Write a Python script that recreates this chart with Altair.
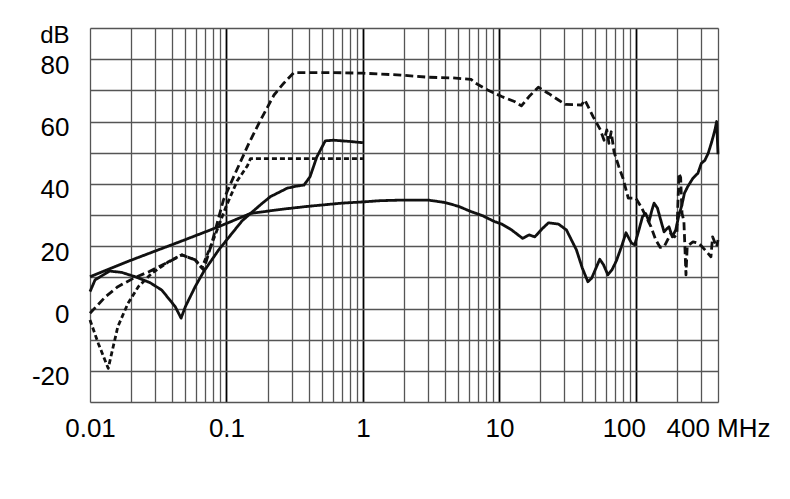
import altair as alt
import pandas as pd

# ---- data ----
s1_f = [0.01, 0.02, 0.046, 0.085, 0.15, 0.25, 0.4, 0.7, 1.0, 1.34, 2.0, 3.0, 4.0, 5.0, 6.2, 7.5, 9.2, 10.4,
        12.3, 14.8, 16.5, 18.2, 20.5, 22.9, 27.1, 31, 36.7, 40.5, 44.5, 47.4, 50.5, 54.4, 58, 62.4, 67, 72,
        78, 84.7, 89, 93, 98, 105, 112, 118, 125, 131, 136, 144, 153, 161, 168, 175, 185, 196, 207, 217,
        227, 240, 262, 285, 302, 320, 339, 360, 380, 391, 400]
s1_db = [10.2, 15.5, 21.5, 26.0, 30.5, 31.8, 32.8, 33.8, 34.2, 34.6, 34.8, 34.8, 34.0, 32.8, 31.1, 29.8, 27.9,
         27.1, 25.2, 22.5, 23.6, 23.0, 25.5, 27.5, 27.1, 25.2, 18.8, 13.0, 8.6, 9.7, 12.5, 15.8, 14.0, 10.8,
         12.5, 15.3, 19.5, 24.3, 22.5, 21.0, 20.4, 25.0, 29.5, 30.5, 27.9, 31.5, 33.8, 32.2, 28.0, 24.6, 25.5,
         26.2, 23.0, 25.2, 30.0, 33.0, 37.0, 39.1, 41.8, 43.4, 46.6, 47.5, 49.8, 53.5, 57.3, 60.0, 49.5]

s2_f = [0.01, 0.013, 0.016, 0.021, 0.027, 0.038, 0.047, 0.059, 0.068, 0.078, 0.095, 0.113, 0.146, 0.178,
        0.223, 0.263, 0.312, 0.6, 1.0, 1.9, 3.0, 4.5, 6.2, 6.7, 8.2, 10.4, 12.9, 14.5, 16.5, 19.3, 22.9,
        27.1, 30.4, 40, 42.3, 48.7, 55, 58.5, 61.3, 63.5, 66, 69.2, 75, 80.5, 88, 100, 109, 129, 140, 151,
        161, 168, 180, 192, 200, 207, 213, 218, 225, 233, 238, 262, 290, 321, 355, 365, 391, 400]
s2_db = [-1.5, 3.8, 7.0, 9.8, 11.8, 15.0, 17.2, 15.6, 12.4, 20.9, 34.8, 42.3, 53.0, 60.5, 68.5, 72.3, 75.7,
         75.7, 75.5, 74.9, 74.2, 74.0, 73.5, 72.3, 70.1, 68.0, 66.4, 65.0, 68.0, 71.0, 69.0, 66.9, 65.5,
         65.3, 66.9, 61.5, 57.3, 54.0, 57.3, 53.0, 56.7, 50.3, 45.5, 41.8, 35.4, 35.4, 32.7, 26.3, 22.0,
         19.6, 19.8, 21.4, 24.0, 23.0, 24.0, 43.4, 42.0, 30.5, 28.0, 10.8, 20.0, 21.4, 20.9, 18.8, 16.6,
         23.0, 19.8, 22.0]

s3_f = [0.01, 0.0109, 0.0139, 0.017, 0.0214, 0.0275, 0.0336, 0.0421, 0.0465, 0.05, 0.059, 0.068, 0.0877,
        0.13, 0.15, 0.18, 0.21, 0.279, 0.33, 0.37, 0.41, 0.46, 0.53, 0.61, 0.8, 1.0]
s3_db = [5.4, 9.2, 12.0, 11.6, 10.2, 8.3, 5.9, 0.6, -3.1, 0.6, 7.0, 11.8, 18.8, 28.1, 30.5, 33.5, 35.9,
         38.6, 39.3, 39.6, 42.3, 48.7, 53.8, 54.0, 53.6, 53.2]

s4_f = [0.01, 0.0115, 0.0136, 0.0148, 0.016, 0.019, 0.0226, 0.0284, 0.0376, 0.047, 0.059, 0.066, 0.08,
        0.1, 0.12, 0.142, 0.15, 1.0]
s4_db = [-3.7, -11.2, -19.2, -12.2, -5.8, 1.7, 7.0, 11.3, 15.0, 17.2, 15.6, 13.0, 22.0, 33.0, 41.0, 45.7,
         48.1, 48.1]

series_names = ["thick solid", "thick dashed", "thin solid", "thin dashed"]
x_ticks = sorted({round(m * 10 ** e, 6) for e in range(-2, 3) for m in range(1, 10) if m * 10 ** e <= 400} | {400})
y_ticks = list(range(-30, 91, 10))

rows = []
for name, fs, ds in zip(series_names, [s1_f, s2_f, s3_f, s4_f], [s1_db, s2_db, s3_db, s4_db]):
    for i, (f, d) in enumerate(zip(fs, ds)):
        rows.append({"s": name, "f": f, "db": d, "i": i})
df = pd.DataFrame(rows)

FONT = "Liberation Sans"

decade_test = "abs(log(datum.value)/LN10 - round(log(datum.value)/LN10)) < 1e-6 && datum.value > 0.011"

chart = alt.Chart(df).mark_line(strokeCap="butt", strokeJoin="round").encode(
    x=alt.X("f:Q", scale=alt.Scale(type="log", domain=[0.01, 400], nice=False),
            axis=alt.Axis(values=x_ticks, title=None, ticks=False, domain=False,
                          grid=True,
                          gridColor={"condition": {"test": decade_test, "value": "#000000"}, "value": "#555555"},
                          gridWidth={"condition": {"test": decade_test, "value": 1.8}, "value": 1.3},
                          labelExpr="indexof([0.01, 0.1, 1, 10, 100], datum.value) >= 0 ? format(datum.value, '.2~f') : (datum.value == 400 ? '400 MHz' : '')",
                          labelOffset={"condition": {"test": "datum.value == 100", "value": -12}, "value": 0},
                          labelFont=FONT, labelFontSize=26, labelColor="#000", labelPadding=13,
                          labelOverlap=False, labelFlush=False)),
    y=alt.Y("db:Q", scale=alt.Scale(domain=[-30, 90], nice=False, zero=False),
            axis=alt.Axis(values=y_ticks, title=None, ticks=False, domain=False,
                          grid=True, gridColor="#555555", gridWidth=1.3,
                          labelExpr="datum.value == 90 ? 'dB' : ((datum.value % 20 == 0 && datum.value > -30) ? ('' + datum.value) : '')",
                          labelBaseline={"condition": {"test": "datum.value == 90", "value": "top"}, "value": "middle"},
                          labelOffset={"condition": {"test": "datum.value == 90", "value": -5}, "value": 6},
                          labelFontSize={"condition": {"test": "datum.value == 90", "value": 24}, "value": 26},
                          labelFont=FONT, labelColor="#000", labelPadding=21,
                          labelOverlap=False, labelFlush=False)),
    color=alt.Color("s:N", scale=alt.Scale(domain=series_names, range=["#111111"] * 4), legend=None),
    strokeWidth=alt.StrokeWidth("s:N", scale=alt.Scale(domain=series_names, range=[2.8, 2.8, 1.3, 1.4]), legend=None),
    strokeDash=alt.StrokeDash("s:N", scale=alt.Scale(domain=series_names, range=[[1, 0], [8, 4], [1, 0], [5, 3]]), legend=None),
    order=alt.Order("i:Q"),
).properties(
    width=628, height=374,
    autosize="none",
    padding={"left": 82, "top": 20, "right": 62, "bottom": 60},
).configure_view(stroke="#222222", strokeWidth=1.4).configure(background="white")

chart.save("out.html", embed_options={"renderer": "svg", "actions": False})
